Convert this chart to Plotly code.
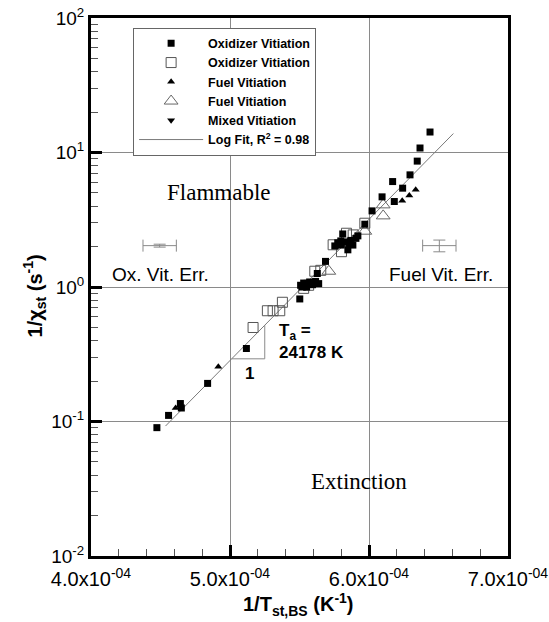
import numpy as np
import plotly.graph_objects as go

# ---- measured flame data: 1/T_st,BS [1/K] vs 1/chi_st [1/s] ----
ox_solid_x = [4.474e-4, 4.558e-4, 4.643e-4, 4.650e-4, 4.839e-4, 5.118e-4, 5.502e-4,
              5.508e-4, 5.520e-4, 5.530e-4, 5.551e-4, 5.573e-4, 5.594e-4, 5.616e-4, 5.638e-4,
              5.628e-4, 5.687e-4,
              5.754e-4, 5.775e-4, 5.797e-4, 5.800e-4, 5.811e-4, 5.834e-4, 5.848e-4, 5.860e-4,
              5.870e-4, 5.884e-4, 5.906e-4, 5.920e-4,
              5.970e-4, 6.022e-4, 6.094e-4, 6.170e-4, 6.182e-4, 6.242e-4, 6.295e-4,
              6.347e-4, 6.367e-4, 6.439e-4]
ox_solid_y = [0.090, 0.111, 0.136, 0.126, 0.192, 0.349, 0.815,
              1.03, 1.00, 1.07, 1.00, 1.09, 1.04, 1.10, 1.06,
              1.26, 1.55,
              2.02, 2.13, 2.20, 2.05, 2.48, 2.15, 1.89, 2.10,
              2.22, 2.05, 2.30, 2.40,
              2.93, 3.68, 4.68, 6.08, 4.32, 5.43, 6.82,
              8.63, 10.8, 14.2]

ox_open_x = [5.166e-4, 5.269e-4, 5.310e-4, 5.358e-4, 5.377e-4,
             5.530e-4, 5.566e-4, 5.610e-4, 5.653e-4,
             5.742e-4, 5.802e-4, 5.838e-4, 5.886e-4, 5.970e-4]
ox_open_y = [0.50, 0.666, 0.666, 0.666, 0.77,
             0.977, 1.03, 1.31, 1.33,
             2.06, 1.83, 2.51, 2.44, 2.98]

fuel_solid_x = [4.609e-4, 4.916e-4, 6.239e-4, 6.290e-4, 6.336e-4]
fuel_solid_y = [0.126, 0.255, 4.37, 4.79, 5.28]

fuel_open_x = [5.711e-4, 5.970e-4, 6.102e-4, 6.102e-4]
fuel_open_y = [1.31, 2.60, 4.08, 3.38]

mixed_x = [5.790e-4, 5.870e-4]
mixed_y = [2.15, 2.25]

# ---- Arrhenius log fit: 1/chi = A exp(Ta / T) ----
Ta = 24178                       # activation temperature [K]
fit_ref = (5.57e-4, 1.127)       # point on the fitted line
fit_x = [4.536e-4, 6.607e-4]     # extent of the fitted line
r_squared = 0.98
slope_leg_x = [5.012e-4, 5.250e-4]   # run of the slope triangle

# ---- representative error bars ----
ox_err = dict(x=4.494e-4, y=2.03, dx=1.2e-5, pct=2.5)
fuel_err = dict(x=6.506e-4, y=2.03, dx=1.2e-5, pct=10)

# axis ticks
x_ticks = [4e-4, 5e-4, 6e-4, 7e-4]
x_ticktext = ["4.0x10<sup>-04</sup>", "5.0x10<sup>-04</sup>",
              "6.0x10<sup>-04</sup>", "7.0x10<sup>-04</sup>"]
x_minor = [4.2e-4, 4.4e-4, 4.6e-4, 4.8e-4, 5.2e-4, 5.4e-4, 5.6e-4, 5.8e-4,
           6.2e-4, 6.4e-4, 6.6e-4, 6.8e-4]
y_ticks = [1e-2, 1e-1, 1e0, 1e1, 1e2]
y_ticktext = ["10<sup>-2</sup>", "10<sup>-1</sup>", "10<sup>0</sup>",
              "10<sup>1</sup>", "10<sup>2</sup>"]
y_minor = [k * 10.0 ** e for e in range(-2, 2) for k in range(2, 10)]


def fit(x):
    x = np.asarray(x, dtype=float)
    return fit_ref[1] * np.exp(Ta * (x - fit_ref[0]))


SANS = "Liberation Sans, Arial, sans-serif"
SERIF = "Liberation Serif, Times New Roman, serif"
GRAY = "#8a8a8a"

fig = go.Figure()

# fitted line
fig.add_trace(go.Scatter(
    x=fit_x, y=fit(fit_x), mode="lines",
    line=dict(color="#7a7a7a", width=1),
    name="<b>Log Fit, R<sup>2</sup> = %.2f</b>" % r_squared, legendrank=6))

# slope triangle under the fit line
y_base = float(fit(slope_leg_x[0]))
fig.add_trace(go.Scatter(
    x=[slope_leg_x[0], slope_leg_x[1], slope_leg_x[1]],
    y=[y_base, y_base, float(fit(slope_leg_x[1]))],
    mode="lines", line=dict(color=GRAY, width=1),
    showlegend=False, hoverinfo="skip"))

# error-bar samples
for e in (ox_err, fuel_err):
    fig.add_trace(go.Scatter(
        x=[e["x"]], y=[e["y"]], mode="markers",
        marker=dict(size=1, color="rgba(0,0,0,0)"),
        error_x=dict(type="constant", value=e["dx"], color=GRAY, thickness=1, width=6),
        error_y=dict(type="percent", value=e["pct"], color=GRAY, thickness=1, width=6),
        showlegend=False, hoverinfo="skip"))

fig.add_trace(go.Scatter(
    x=ox_open_x, y=ox_open_y, mode="markers", name="<b>Oxidizer Vitiation</b>",
    marker=dict(symbol="square-open", size=10, color="#555555", line=dict(width=1)),
    legendrank=2))
fig.add_trace(go.Scatter(
    x=fuel_open_x, y=fuel_open_y, mode="markers", name="<b>Fuel Vitiation</b>",
    marker=dict(symbol="triangle-up-open", size=12, color="#666666", line=dict(width=1)),
    legendrank=4))
fig.add_trace(go.Scatter(
    x=ox_solid_x, y=ox_solid_y, mode="markers", name="<b>Oxidizer Vitiation</b>",
    marker=dict(symbol="square", size=7, color="black"), legendrank=1))
fig.add_trace(go.Scatter(
    x=fuel_solid_x, y=fuel_solid_y, mode="markers", name="<b>Fuel Vitiation</b>",
    marker=dict(symbol="triangle-up", size=7, color="black"), legendrank=3))
fig.add_trace(go.Scatter(
    x=mixed_x, y=mixed_y, mode="markers", name="<b>Mixed Vitiation</b>",
    marker=dict(symbol="triangle-down", size=7, color="black"), legendrank=5))


def label(text, x, y, size, family=SANS, xanchor="center"):
    fig.add_annotation(x=x, y=np.log10(y), xref="x", yref="y", text=text,
                       showarrow=False, xanchor=xanchor, yanchor="middle",
                       font=dict(family=family, size=size, color="black"))


label("Flammable", 4.92e-4, 5.0, 23, SERIF)
label("Extinction", 5.93e-4, 0.0355, 23, SERIF)
label("Ox. Vit. Err.", 4.50e-4, 1.23, 19)
label("Fuel Vit. Err.", 6.518e-4, 1.23, 19)
label("<b>T<sub>a</sub> =</b>", 5.34e-4, 0.462, 17, xanchor="left")
label("<b>%d K</b>" % Ta, 5.34e-4, 0.328, 17, xanchor="left")
label("<b>1</b>", 5.143e-4, 0.229, 17)

# axis titles
fig.add_annotation(x=0.498, y=-0.091, xref="paper", yref="paper",
                   xanchor="center", yanchor="middle",
                   text="<b>1/T<sub>st,BS</sub> (K<sup>-1</sup>)</b>", showarrow=False,
                   font=dict(family=SANS, size=20, color="black"))
fig.add_annotation(x=-0.136, y=0.483, xref="paper", yref="paper", textangle=-90,
                   xanchor="center", yanchor="middle",
                   text="<b>1/χ<sub>st</sub> (s<sup>-1</sup>)</b>", showarrow=False,
                   font=dict(family=SANS, size=20, color="black"))

axis_common = dict(
    showline=True, linewidth=3, linecolor="black", mirror=True,
    ticks="inside", ticklen=11, tickwidth=3, tickcolor="black",
    showgrid=True, gridcolor=GRAY, gridwidth=1, zeroline=False,
    automargin=False,
)

fig.update_xaxes(range=[4e-4, 7e-4], tickvals=x_ticks, ticktext=x_ticktext,
                 tickfont=dict(family=SANS, size=20, color="black"),
                 ticklabelstandoff=3,
                 minor=dict(tickvals=x_minor, ticks="inside", ticklen=7,
                            tickwidth=1, tickcolor="#555555", showgrid=False),
                 **axis_common)
fig.update_yaxes(type="log", range=[-2, 2], tickvals=y_ticks, ticktext=y_ticktext,
                 tickfont=dict(family=SANS, size=19, color="black"),
                 minor=dict(tickvals=y_minor, ticks="inside", ticklen=7,
                            tickwidth=1, tickcolor="#555555", showgrid=False),
                 **axis_common)

fig.update_layout(
    width=549, height=622,
    margin=dict(l=91, r=41, t=18, b=66),
    paper_bgcolor="white", plot_bgcolor="white",
    showlegend=True,
    legend=dict(x=0.101, y=0.982, xanchor="left", yanchor="top",
                bgcolor="white", bordercolor="#666666", borderwidth=1,
                font=dict(family=SANS, size=12.5, color="black"),
                itemwidth=64, tracegroupgap=0),
)

fig.write_html("out.html")
